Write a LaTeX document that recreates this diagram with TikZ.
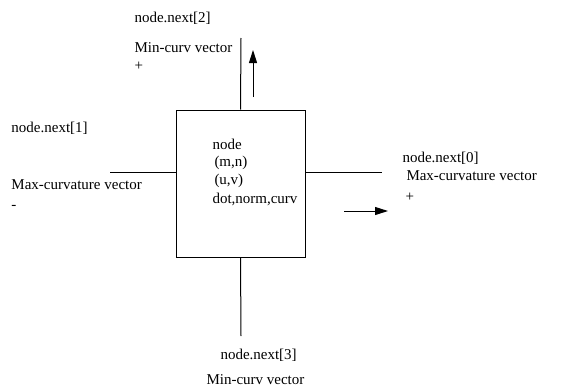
\documentclass[tikz,border=0pt]{standalone}
\usepackage{fontspec}
\setmainfont{Liberation Serif}
\usetikzlibrary{arrows.meta}

\begin{document}
\begin{tikzpicture}[x=1pt,y=-1pt,font=\fontsize{15}{18}\selectfont,line width=1pt,
	lbl/.style={anchor=west,inner sep=0pt},
	vec/.style={-{Triangle[length=13pt,width=8pt]}}]
				\useasboundingbox (0,0) rectangle (568,388);
				% the node box and its contents
				\node[draw,minimum width=129pt,minimum height=147pt,inner sep=0pt] (nd) at (240.5,183.5) {};
				\node[lbl] (ndname) at (212,144) {node};
				\node[lbl] (ndmn) at (214,163) {(m,n)};
				\node[lbl] (nduv) at (214,181) {(u,v)};
				\node[lbl] (ndattr) at (212,199) {dot,norm,curv};
				% free ends of the four links
				\coordinate (end2) at (241,38);
				\coordinate (end1) at (110,172);
				\coordinate (end0) at (382,172);
				\coordinate (end3) at (241,336);
				\draw (nd.north) -- (end2);
				\draw (nd.west |- end1) -- (end1);
				\draw (nd.east |- end0) -- (end0);
				\draw (nd.south) -- (end3);
				% vectors
				\coordinate (minbot) at (253,97);
				\coordinate (mintop) at (253,50);
				\coordinate (maxleft) at (344,211);
				\coordinate (maxright) at (388,211);
				\draw[vec] (minbot) -- (mintop);
				\draw[vec] (maxleft) -- (maxright);
				% labels
				\node[lbl] (lbl2) at (134,18) {node.next[2]};
				\node[lbl] (min2) at (134,48) {Min-curv vector};
				\node[lbl] (sgn2) at (134,66) {+};
				\node[lbl] (lbl1) at (11,128) {node.next[1]};
				\node[lbl] (max1) at (11,185) {Max-curvature vector};
				\node[lbl] (sgn1) at (11,207) {-};
				\node[lbl] (lbl0) at (402,158) {node.next[0]};
				\node[lbl] (max0) at (406,176) {Max-curvature vector};
				\node[lbl] (sgn0) at (405,197) {+};
				\node[lbl] (lbl3) at (220,355) {node.next[3]};
				\node[lbl] (min3) at (206,380) {Min-curv vector};
			\end{tikzpicture}
\end{document}
